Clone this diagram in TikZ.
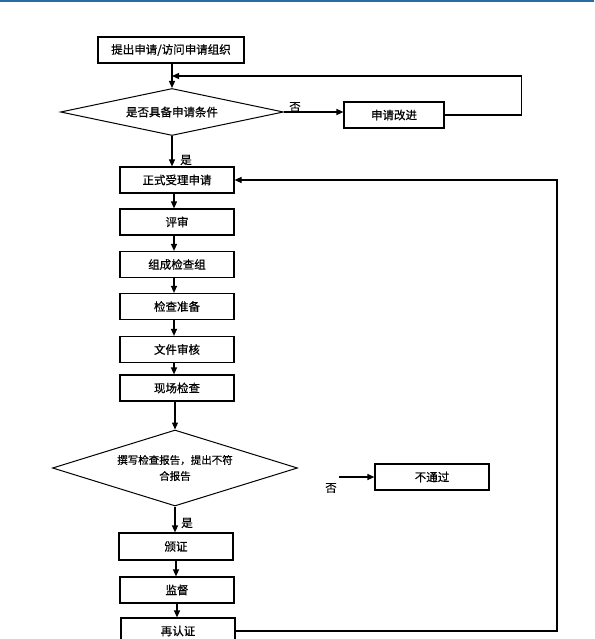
\documentclass[tikz,border=0pt]{standalone}
\usepackage{fontspec}
\setmainfont[FakeBold=0.6]{Noto Sans CJK SC}
\usepackage{tikz}
\usetikzlibrary{shapes.geometric,arrows.meta}

\begin{document}
\begin{tikzpicture}[x=1pt,y=-1pt,
		box/.style={draw,line width=1.2pt,minimum width=114pt,minimum height=26pt,inner sep=0pt,font=\fontsize{11.5}{13}\selectfont},
		cond/.style={draw,diamond,line width=1pt,inner sep=0pt,align=center},
		arr/.style={line width=1.2pt,-{Triangle[length=7pt,width=6pt]}},
		lbl/.style={inner sep=0pt,font=\fontsize{11.5}{13}\selectfont}]
		\useasboundingbox (0,0) rectangle (594,639);
		\clip (0,0) rectangle (594,639);
		\draw[line width=1.5pt,color={rgb,255:red,40;green,110;blue,160}] (0,1) -- (594,1);
		\node[box,minimum width=146pt] (apply) at (171,50) {提出申请/访问申请组织};
		\node[cond,minimum width=223pt,minimum height=47pt,aspect=4.7,font=\fontsize{11.5}{13}\selectfont] (check) at (172,112) {是否具备申请条件};
		\node[box,minimum width=100pt] (improve) at (394,115) {申请改进};
		\node[box] (accept) at (177,180) {正式受理申请};
		\node[box] (review) at (177,222) {评审};
		\node[box] (team) at (177,264.5) {组成检查组};
		\node[box] (prep) at (177,306.5) {检查准备};
		\node[box] (docs) at (177,349.5) {文件审核};
		\node[box] (site) at (177,388) {现场检查};
		\node[cond,minimum width=245pt,minimum height=76pt,aspect=3.2,font=\fontsize{10.5}{16}\selectfont] (report) at (175,468) {撰写检查报告，提出不符\\合报告};
		\node[box] (fail) at (432,477) {不通过};
		\node[box,minimum height=27pt] (cert) at (176,546.5) {颁证};
		\node[box] (supervise) at (177,590) {监督};
		\node[box] (recert) at (178,631) {再认证};
		\coordinate (join) at (172,76);
		\coordinate (nostart) at (339,477);
		\draw[arr] (apply.south -| join) -- (check.north -| join);
		\draw[arr] (improve.east) -- ++(77,0) |- (join);
		\draw[arr] (check.east) -- (check.east -| improve.west);
		\node[lbl] (no1) at (295,107) {否};
		\draw[arr] (check.south -| join) -- (accept.north -| join);
		\node[lbl] (yes1) at (186,160) {是};
		\foreach \a/\b in {accept/review, review/team, team/prep, prep/docs, docs/site}{
			\draw[arr] (\a.south -| 174,0) -- (\b.north -| 174,0);
		}
		\draw[arr] (site.south -| report.north) -- (report.north);
		\draw[arr] (nostart) -- (fail.west);
		\node[lbl] (no2) at (331,488) {否};
		\draw[arr] (report.south) -- (cert.north -| report.south);
		\node[lbl] (yes2) at (187,523) {是};
		\draw[arr] (cert.south -| 176,0) -- (supervise.north -| 176,0);
		\draw[arr] (supervise.south -| 177,0) -- (recert.north -| 177,0);
		\draw[arr] (recert.east) -- (557,631) |- (accept.east);
		\end{tikzpicture}
\end{document}
